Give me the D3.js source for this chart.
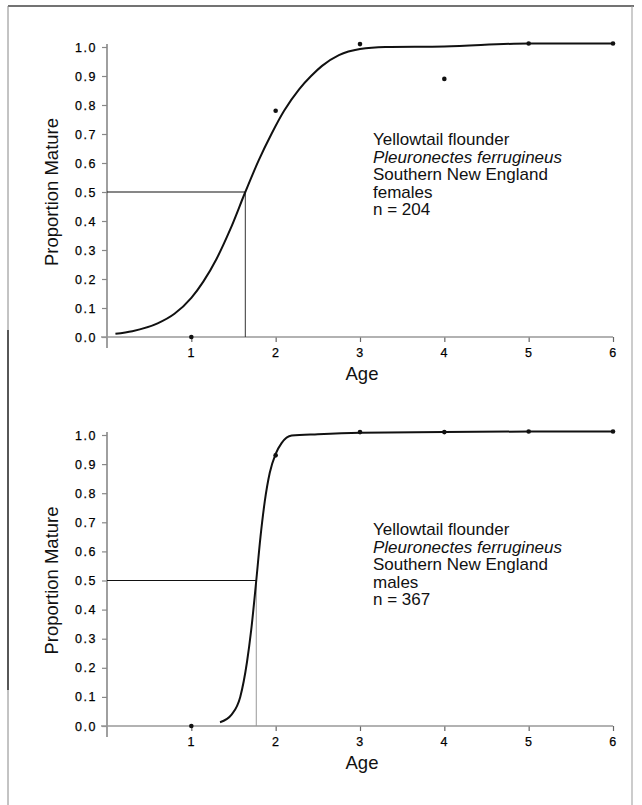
<!DOCTYPE html>
<html>
<head>
<meta charset="utf-8">
<script src="https://cdn.jsdelivr.net/npm/d3@7"></script>
<style>
  html, body { margin: 0; padding: 0; background: #fff; }
  svg { display: block; }
  .tick text { font-family: "Liberation Sans", Arial, sans-serif; font-size: 12.5px; letter-spacing: 1.5px; fill: #000; stroke: #000; stroke-width: 0.25px; }
</style>
</head>
<body>
<svg id="chart" width="642" height="805"></svg>
<script>
// ---------- data ----------
const ages = [1, 2, 3, 4, 5, 6];
const femaleObserved = [0.0, 0.78, 1.01, 0.89, 1.012, 1.012];
const maleObserved = [0.0, 0.93, 1.01, 1.01, 1.012, 1.012];

const femaleCurveAge = [0.1, 0.3, 0.6, 0.8, 1.0, 1.14, 1.3, 1.46, 1.64, 1.8, 1.95, 2.1, 2.28, 2.42, 2.55, 2.75, 3.0, 3.3, 4.0, 5.0, 6.0];
const femaleCurveP   = [0.011, 0.02, 0.047, 0.08, 0.135, 0.19, 0.27, 0.37, 0.50, 0.61, 0.70, 0.78, 0.855, 0.90, 0.935, 0.972, 0.993, 1.0, 1.002, 1.012, 1.012];

const maleCurveAge = [1.34, 1.48, 1.58, 1.66, 1.71, 1.77, 1.82, 1.87, 1.93, 2.0, 2.07, 2.19, 2.5, 3.0, 4.0, 5.0, 6.0];
const maleCurveP   = [0.013, 0.04, 0.10, 0.22, 0.33, 0.50, 0.65, 0.77, 0.87, 0.935, 0.972, 0.998, 1.003, 1.008, 1.01, 1.012, 1.012];

const femaleA50 = 1.64;
const maleA50 = 1.77;

const yTickValues = [0, 0.1, 0.2, 0.3, 0.4, 0.5, 0.6, 0.7, 0.8, 0.9, 1.0];
const xTickValues = [1, 2, 3, 4, 5, 6];

const femaleLabel = ["Yellowtail flounder", "Pleuronectes ferrugineus", "Southern New England", "females", "n = 204"];
const maleLabel = ["Yellowtail flounder", "Pleuronectes ferrugineus", "Southern New England", "males", "n = 367"];

// ---------- drawing ----------
const svg = d3.select("#chart");
const FONT = "'Liberation Sans', Arial, Helvetica, sans-serif";

// frame
svg.append("line").attr("x1", 8).attr("x2", 634).attr("y1", 6).attr("y2", 6)
  .attr("stroke", "#444").attr("stroke-width", 1.5);
svg.append("line").attr("x1", 8).attr("x2", 8).attr("y1", 6).attr("y2", 805)
  .attr("stroke", "#888").attr("stroke-width", 1);
svg.append("line").attr("x1", 8).attr("x2", 8).attr("y1", 330).attr("y2", 690)
  .attr("stroke", "#333").attr("stroke-width", 1.5);
svg.append("line").attr("x1", 632).attr("x2", 632).attr("y1", 6).attr("y2", 805)
  .attr("stroke", "#999").attr("stroke-width", 1);

function panel(cfg) {
  const x = d3.scaleLinear().domain([0, 6]).range([107, 613]);
  const y = d3.scaleLinear().domain([0, 1]).range([cfg.y0, cfg.y1]);
  const g = svg.append("g");

  // y axis
  const ya = g.append("g").attr("transform", `translate(${x(0)},0)`)
    .call(d3.axisLeft(y).tickValues(yTickValues).tickSize(5).tickPadding(5)
      .tickFormat(d3.format(".1f")));
  ya.select(".domain").remove();
  ya.selectAll(".tick line").attr("stroke", "#888").attr("stroke-width", 1.2);

  // x axis
  const xa = g.append("g").attr("transform", `translate(0,${y(0)})`)
    .call(d3.axisBottom(x).tickValues(xTickValues).tickSize(5).tickPadding(6)
      .tickFormat(d3.format("d")));
  xa.select(".domain").remove();
  xa.selectAll(".tick line").attr("stroke", "#666").attr("stroke-width", 1.2);

  // axis lines
  g.append("line").attr("x1", x(0)).attr("x2", x(0))
    .attr("y1", y(1) - 3).attr("y2", y(0) + 11)
    .attr("stroke", "#888").attr("stroke-width", 1.6);
  g.append("line").attr("x1", x(0) - 6).attr("x2", x(6))
    .attr("y1", y(0)).attr("y2", y(0))
    .attr("stroke", "#999").attr("stroke-width", 1.6);

  // axis titles
  g.append("text")
    .attr("transform", `translate(58,${(y(0) + y(1)) / 2}) rotate(-90)`)
    .attr("text-anchor", "middle")
    .attr("font-family", FONT).attr("font-size", 18.5).attr("fill", "#111")
    .text("Proportion Mature");
  g.append("text")
    .attr("x", x(3) + 2).attr("y", y(0) + 43)
    .attr("text-anchor", "middle")
    .attr("font-family", FONT).attr("font-size", 18.5).attr("fill", "#111")
    .text("Age");

  // 50% reference lines
  g.append("line").attr("x1", x(0)).attr("x2", x(cfg.a50))
    .attr("y1", y(0.5)).attr("y2", y(0.5))
    .attr("stroke", "#111").attr("stroke-width", 1.2);
  g.append("line").attr("x1", x(cfg.a50)).attr("x2", x(cfg.a50))
    .attr("y1", y(0.5)).attr("y2", y(0))
    .attr("stroke", cfg.vColor).attr("stroke-width", 1);

  // fitted curve
  const pts = cfg.curveAge.map((a, i) => [a, cfg.curveP[i]]);
  g.append("path")
    .attr("d", d3.line().x(d => x(d[0])).y(d => y(d[1])).curve(d3.curveMonotoneX)(pts))
    .attr("fill", "none").attr("stroke", "#111").attr("stroke-width", 2);

  // observed points
  g.selectAll("circle.obs").data(ages.map((a, i) => [a, cfg.obs[i]]))
    .enter().append("circle")
    .attr("cx", d => x(d[0])).attr("cy", d => y(d[1])).attr("r", 2.3)
    .attr("fill", "#111");

  // annotation
  const t = g.append("text").attr("font-family", FONT).attr("font-size", 17).attr("fill", "#111");
  cfg.label.forEach((s, i) => {
    t.append("tspan").attr("x", 373).attr("y", cfg.labelY + i * 17.6)
      .attr("font-style", i === 1 ? "italic" : "normal")
      .text(s);
  });
}

panel({ y0: 337, y1: 47, a50: femaleA50, curveAge: femaleCurveAge, curveP: femaleCurveP,
        obs: femaleObserved, label: femaleLabel, labelY: 145, vColor: "#333" });
panel({ y0: 726, y1: 435, a50: maleA50, curveAge: maleCurveAge, curveP: maleCurveP,
        obs: maleObserved, label: maleLabel, labelY: 535, vColor: "#999" });
</script>
</body>
</html>
